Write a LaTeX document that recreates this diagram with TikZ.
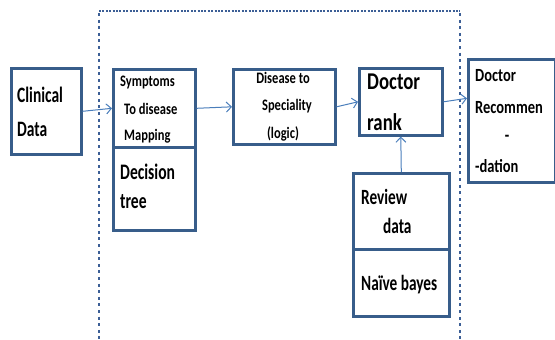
\documentclass[tikz,border=0pt]{standalone}
\usepackage{fontspec}
\setmainfont{Carlito}
\usepackage{graphicx}
\usetikzlibrary{arrows.meta}
\definecolor{boxblue}{RGB}{56,93,138}
\definecolor{arrowblue}{RGB}{74,126,187}
\definecolor{framenavy}{RGB}{60,95,150}
% tall, narrow lettering
\newcommand{\tall}[1]{\scalebox{1}[1.28]{#1}}
\newcommand{\taller}[1]{\scalebox{1}[1.42]{#1}}
\tikzset{
  box/.style={draw=boxblue, line width=2.6pt, fill=white, rectangle, inner sep=0pt, anchor=north west},
  lbl/.style={inner sep=0pt, anchor=base west, font=\bfseries},
  lblc/.style={inner sep=0pt, anchor=base, font=\bfseries},
  flow/.style={draw=arrowblue, line width=1pt, -{Straight Barb[length=5pt,width=10pt]}},
  framev/.style={draw=framenavy, line width=2.4pt, dash pattern=on 3pt off 3.6pt},
  frameh/.style={draw=framenavy, line width=2.2pt, dash pattern=on 2pt off 1.4pt}
}
\begin{document}
\begin{tikzpicture}[x=1pt,y=-1pt]
\useasboundingbox (0,0) rectangle (555,340);

% dotted processing frame, open at the bottom
\draw[frameh] (99,11) -- (460,11);
\draw[framev] (99,13) -- (99,345);
\draw[framev] (460,13) -- (460,345);

% boxes
\node[box, minimum width=70pt, minimum height=86pt] (clin)  at (10,67)  {};
\node[box, minimum width=82pt, minimum height=78pt] (symp)  at (112,68) {};
\node[box, minimum width=82pt, minimum height=83pt] (dtree) at (112,146) {};
\node[box, minimum width=102pt, minimum height=75pt] (dis)  at (232,68) {};
\node[box, minimum width=83pt, minimum height=67pt] (rank)  at (358,67) {};
\node[box, minimum width=87pt, minimum height=123pt] (rec)  at (467,58) {};
\node[box, minimum width=96pt, minimum height=76pt] (rev)   at (352,172) {};
\node[box, minimum width=96pt, minimum height=67pt] (nb)    at (352,248) {};

% labels
\node[lbl, font=\bfseries\fontsize{15.5}{18}\selectfont] (t1) at (17,102) {\taller{Clinical}};
\node[lbl, font=\bfseries\fontsize{15.5}{18}\selectfont] (t2) at (17,136) {\taller{Data}};

\node[lbl, font=\bfseries\fontsize{12.5}{15}\selectfont] (t3) at (120,86)  {\tall{Symptoms}};
\node[lbl, font=\bfseries\fontsize{12.5}{15}\selectfont] (t4) at (124,114) {\tall{To disease}};
\node[lbl, font=\bfseries\fontsize{12.5}{15}\selectfont] (t5) at (124,140) {\tall{Mapping}};

\node[lbl, font=\bfseries\fontsize{15.6}{18}\selectfont] (t6) at (120,179) {\taller{Decision}};
\node[lbl, font=\bfseries\fontsize{15.6}{18}\selectfont] (t7) at (120,208) {\taller{tree}};

\node[lblc, font=\bfseries\fontsize{12.5}{15}\selectfont] (t8)  at (283,83)  {\tall{Disease to}};
\node[lblc, font=\bfseries\fontsize{12.5}{15}\selectfont] (t9)  at (287,110) {\tall{Speciality}};
\node[lblc, font=\bfseries\fontsize{12.5}{15}\selectfont] (t10) at (283,138) {\tall{(logic)}};

\node[lbl, font=\bfseries\fontsize{18.8}{22}\selectfont] (t11) at (367,89)  {\tall{Doctor}};
\node[lbl, font=\bfseries\fontsize{18.8}{22}\selectfont] (t12) at (367,130) {\tall{rank}};

\node[lbl, font=\bfseries\fontsize{14.5}{17}\selectfont] (t13) at (475,81)  {\tall{Doctor}};
\node[lbl, font=\bfseries\fontsize{14.5}{17}\selectfont] (t14) at (475,113) {\tall{Recommen}};
\node[lblc, font=\bfseries\fontsize{14.5}{17}\selectfont] (t15) at (507,141) {\tall{-}};
\node[lbl, font=\bfseries\fontsize{14.5}{17}\selectfont] (t16) at (475,172) {\tall{-dation}};

\node[lbl, font=\bfseries\fontsize{15.3}{18}\selectfont] (t17) at (361,204) {\taller{Review}};
\node[lbl, font=\bfseries\fontsize{15.3}{18}\selectfont] (t18) at (383,233) {\taller{data}};
\node[lbl, font=\bfseries\fontsize{15.3}{18}\selectfont] (t19) at (361,290) {\taller{Naïve bayes}};

% connectors
\draw[flow] (clin.east) -- (symp.west);
\draw[flow] (symp.east) -- (dis.west);
\draw[flow] (dis.east) -- (rank.west);
\draw[flow] (rank.east) -- ([yshift=22.5pt]rec.west);
\draw[flow] (rev.north) -- (rank.south);
\end{tikzpicture}
\end{document}
